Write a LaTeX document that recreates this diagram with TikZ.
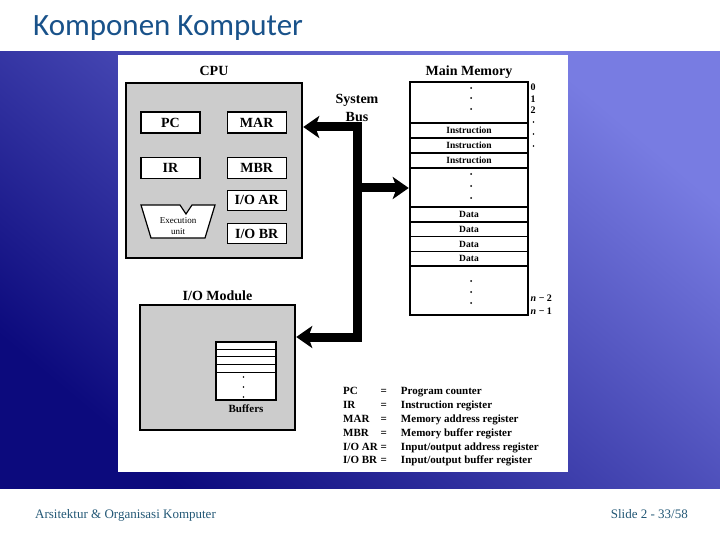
\documentclass[tikz,border=0pt]{standalone}
\usepackage{fontspec}
\setmainfont{Liberation Serif}
\newfontfamily\slidefont{Carlito}
\usepackage{xcolor}
\usetikzlibrary{positioning,arrows.meta}
\definecolor{slideblue}{RGB}{25,82,138}
\definecolor{foottext}{RGB}{35,88,118}
\definecolor{bandlight}{RGB}{120,124,226}
\definecolor{bandmid}{RGB}{55,80,205}
\definecolor{banddark}{RGB}{12,10,125}
\definecolor{unitgray}{gray}{0.8}
\newcommand{\fsz}[2]{\fontsize{#1}{#2}\selectfont}

\begin{document}
\begin{tikzpicture}[
  x=1pt, y=-1pt,
  unit/.style={draw, line width=2.5pt, fill=unitgray},
  reg/.style={draw, fill=white, line width=1.2pt, minimum width=59pt, minimum height=21pt, inner sep=0pt, font=\bfseries\fsz{14}{16}},
  cell/.style={draw, fill=white, line width=1.2pt, outer sep=0pt, minimum width=118pt, minimum height=15pt, inner sep=0pt, font=\bfseries\fsz{9.5}{11}},
  bufcell/.style={draw, line width=1pt, outer sep=0pt, minimum width=60pt, minimum height=7.75pt, inner sep=0pt},
  title/.style={font=\bfseries\fsz{14}{18}, inner sep=0pt, align=center},
  bus/.style={line width=9pt, line join=miter},
  tip/.tip={Stealth[length=16pt, width=22pt, inset=4pt]}
]
\useasboundingbox (0,0) rectangle (720,540);
% slide background
\fill[white] (0,0) rectangle (720,540);
\shade[top color=bandlight, middle color=bandmid, bottom color=banddark, shading angle=-40] (0,52) rectangle (720,488);
\fill[white] (118,55) rectangle (568,472);
\node[anchor=base west, inner sep=0pt, text=slideblue, font=\slidefont\fsz{31}{35}] (heading) at (33,36) {Komponen Komputer};
\node[anchor=base west, inner sep=0pt, text=foottext, font=\fsz{13}{15}] (course) at (35,518) {Arsitektur \& Organisasi Komputer};
\node[anchor=base east, inner sep=0pt, text=foottext, font=\fsz{13}{15}] (slideno) at (688,518) {Slide 2 - 33/58};

% CPU
\node[unit, minimum width=176pt, minimum height=175pt] (cpu) at (214,170.5) {};
\node[title, above=6pt of cpu] (cputitle) {CPU};
\node[reg] (pc) at (170.5,122.5) {PC};
\node[reg, right=26pt of pc] (mar) {MAR};
\node[reg, below=23pt of pc] (ir) {IR};
\node[reg, below=23pt of mar] (mbr) {MBR};
\node[reg, below=11pt of mbr, minimum height=20pt] (ioar) {I/O AR};
\node[reg, below=12pt of ioar, minimum height=20pt] (iobr) {I/O BR};
\draw[fill=white, line width=1.2pt, line join=miter] (141,205) -- (180,205) -- (186,214) -- (192,205) -- (215,205) -- (205,238) -- (151,238) -- cycle;
\node[align=center, inner sep=0pt, font=\fsz{9}{11}] (exec) at (178,226.5) {Execution\\unit};

% main memory
\node[draw, fill=white, line width=2.5pt, minimum width=118pt, minimum height=233pt] (mem) at (469,198.5) {};
\node[title, above=2pt of mem] (memtitle) {Main Memory};
\node[cell] (ins1) at (469,130.5) {Instruction};
\node[cell, below=0pt of ins1] (ins2) {Instruction};
\node[cell, below=0pt of ins2] (ins3) {Instruction};
\node[cell] (dat1) at (469,214.5) {Data};
\node[cell, below=0pt of dat1, minimum height=14.75pt] (dat2) {Data};
\node[cell, below=0pt of dat2, minimum height=14.75pt] (dat3) {Data};
\node[cell, below=0pt of dat3, minimum height=14.5pt] (dat4) {Data};
\fill (471,88) circle (1pt) (471,98) circle (1pt) (471,109) circle (1pt);
\fill (471,174) circle (1pt) (471,186) circle (1pt) (471,198) circle (1pt);
\fill (471,281) circle (1pt) (471,292) circle (1pt) (471,303) circle (1pt);
\node[anchor=north west, align=left, inner sep=0pt, font=\bfseries\fsz{10}{11.5}] (addrtop) at (530.5,84) {0\\1\\2};
\fill (533.5,122) circle (0.9pt) (533.5,134) circle (0.9pt) (533.5,146) circle (0.9pt);
\node[anchor=north west, align=left, inner sep=0pt, font=\bfseries\fsz{10}{13}] (addrbot) at (530.5,294.5) {\textit{n} − 2\\\textit{n} − 1};

% system bus
\node[title] (buslabel) at (357,108) {System\\Bus};
\coordinate (bustop) at (357,127);
\coordinate (busmid) at (357,188);
\coordinate (busbot) at (357,337);

% I/O module
\node[unit, minimum width=155pt, minimum height=125pt] (io) at (217.5,367.5) {};
\node[title, above=3pt of io] (iotitle) {I/O Module};
\node[draw, fill=white, line width=1.2pt, minimum width=60pt, minimum height=58pt] (buf) at (246,371) {};
\node[bufcell, below=0pt of buf.north] (buf1) {};
\node[bufcell, below=0pt of buf1] (buf2) {};
\node[bufcell, below=0pt of buf2] (buf3) {};
\node[bufcell, below=0pt of buf3] (buf4) {};
\fill (243.5,377) circle (0.9pt) (243.5,387) circle (0.9pt) (243.5,397) circle (0.9pt);
\node[inner sep=0pt, font=\bfseries\fsz{11}{13}, below=4pt of buf] (buflabel) {Buffers};

\draw[bus, tip-tip] (io.east |- busbot) -- (busbot) -- (bustop) -- (cpu.east |- bustop);
\draw[bus, -tip] (busmid) -- (mem.west |- busmid);

% legend
\node[anchor=north west, inner sep=0pt, font=\bfseries\fsz{11}{13.8}] (legend) at (343,385) {%
  \begin{tabular}{@{}l@{\hspace{3pt}}c@{\hspace{14pt}}l@{}}
  PC & = & Program counter\\
  IR & = & Instruction register\\
  MAR & = & Memory address register\\
  MBR & = & Memory buffer register\\
  I/O AR & = & Input/output address register\\
  I/O BR & = & Input/output buffer register
  \end{tabular}};
\end{tikzpicture}
\end{document}
